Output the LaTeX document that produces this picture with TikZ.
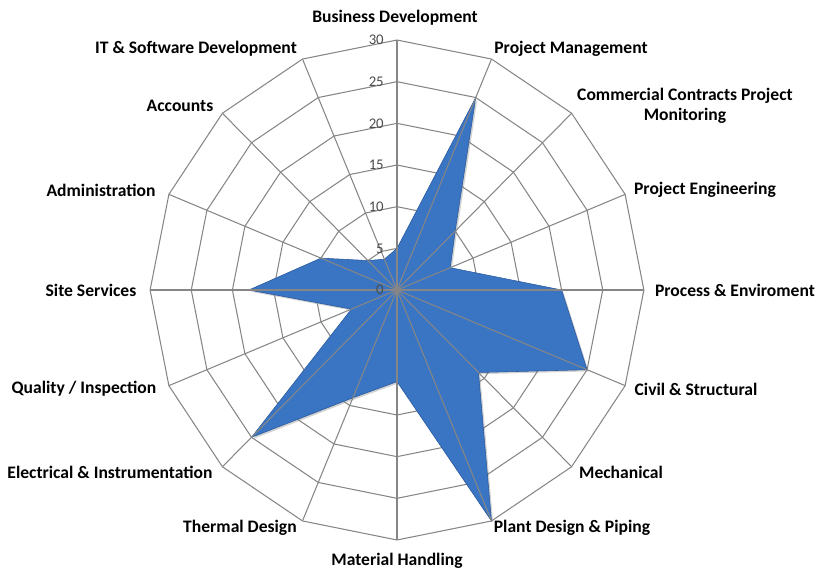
\documentclass[tikz,border=0pt]{standalone}
\usepackage{fontspec}
\setmainfont{Carlito}
\usepackage{tikz}
\usetikzlibrary{calc}
\usetikzlibrary{shadows}

\definecolor{gridgray}{RGB}{134,134,134}
\definecolor{areablue}{RGB}{58,117,196}
\definecolor{areaedge}{RGB}{40,88,156}

\begin{document}
\begin{tikzpicture}[x=0.025cm,y=-0.025cm,
                    cat/.style={font=\bfseries\fontsize{12.5}{14.5}\selectfont,
                                inner sep=0pt, align=center},
                    tick/.style={font=\fontsize{10.5}{12}\selectfont, text=black!70,
                                 inner sep=0pt, anchor=east},
                    grid/.style={draw=gridgray, line width=0.75pt},
                    area/.style={fill=areablue, draw=areaedge, line width=0.4pt,
                                 drop shadow={opacity=0.35, shadow xshift=1.2pt,
                                              shadow yshift=-1.2pt}}]
 \useasboundingbox (0,0) rectangle (817,572);
 \coordinate (o) at (397,290);
 % rings
 \foreach \r in {5,10,...,30} {
   \draw[grid] ({397},{290-8.333*\r})
     \foreach \i in {1,...,15} { -- ({397+8.23*\r*sin(22.5*\i)},{290-8.333*\r*cos(22.5*\i)}) }
     -- cycle;
 }
 % data
 \foreach \v [count=\i from 0] in {5,25,10,7,20,25,14,30,11,14,25,6,18,10,5,4}
   \coordinate (d\i) at ({397+8.23*\v*sin(22.5*\i)},{290-8.333*\v*cos(22.5*\i)});
 \draw[area] (d0) \foreach \i in {1,...,15} { -- (d\i) } -- cycle;
 % spokes
 \foreach \i in {0,...,15} {
   \coordinate (s\i) at ({397+247*sin(22.5*\i)},{290-250*cos(22.5*\i)});
   \draw[grid] (o) -- (s\i);
 }
 % scale
 \foreach \t in {0,5,...,30}
   \node[tick] (t\t) at (384,{290-8.333*\t}) {\t};
 % categories
 \node[cat] (bd)  at (395,18)  {Business Development};
 \node[cat] (pm)  at (571,49)  {Project Management};
 \node[cat] (ccp) at (685,106) {Commercial Contracts Project\\Monitoring};
 \node[cat] (pe)  at (705,190) {Project Engineering};
 \node[cat] (pen) at (735,290) {Process \& Enviroment};
 \node[cat] (cs)  at (696,389) {Civil \& Structural};
 \node[cat] (me)  at (621,472) {Mechanical};
 \node[cat] (pdp) at (572,528) {Plant Design \& Piping};
 \node[cat] (mh)  at (397,561) {Material Handling};
 \node[cat] (td)  at (240,528) {Thermal Design};
 \node[cat] (ei)  at (110,472) {Electrical \& Instrumentation};
 \node[cat] (qi)  at (84,389)  {Quality / Inspection};
 \node[cat] (ss)  at (91,290)  {Site Services};
 \node[cat] (ad)  at (101,190) {Administration};
 \node[cat] (ac)  at (180,106) {Accounts};
 \node[cat] (it)  at (196,49)  {IT \& Software Development};
\end{tikzpicture}
\end{document}
